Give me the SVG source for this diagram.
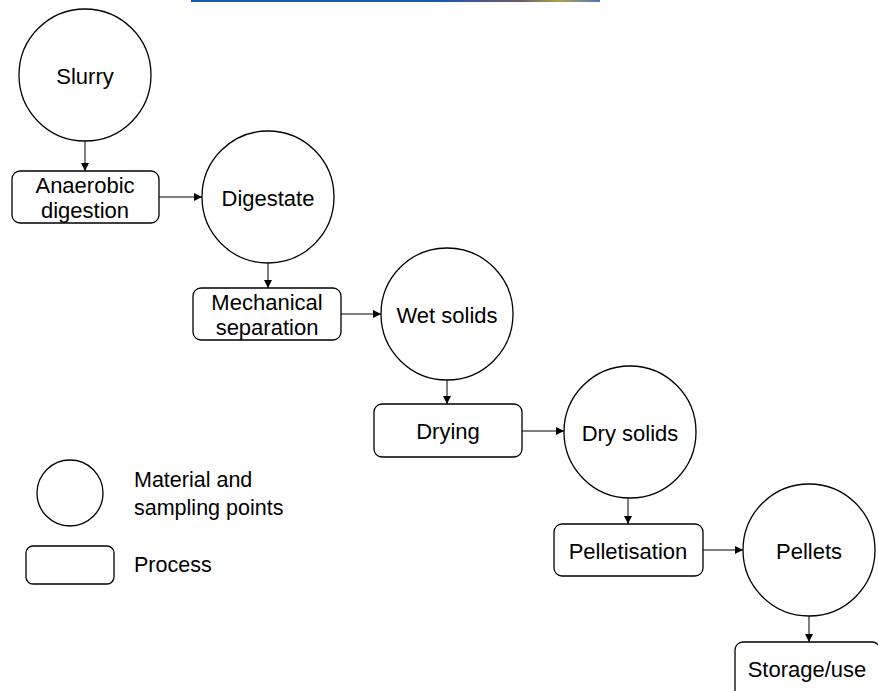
<svg xmlns="http://www.w3.org/2000/svg" width="878" height="691" viewBox="0 0 878 691">
<style>
.n{fill:#fff;stroke:#000;stroke-width:1.3}
.t{font-family:"Liberation Sans",Arial,sans-serif;font-size:22px;fill:#000;text-anchor:middle}
.l{font-family:"Liberation Sans",Arial,sans-serif;font-size:21.5px;fill:#000}
.c{stroke:#000;stroke-width:1;fill:none;marker-end:url(#ah)}
</style>
<defs>
<marker id="ah" markerWidth="8" markerHeight="8" refX="8" refY="4" orient="auto" markerUnits="userSpaceOnUse">
<path d="M0,0 L8,4 L0,8 Z" fill="#000"/>
</marker>
<linearGradient id="bar" x1="0" x2="1" y1="0" y2="0">
<stop offset="0" stop-color="#1a56b0"/><stop offset="0.6" stop-color="#1a56b0"/><stop offset="0.8" stop-color="#6a5a6a"/><stop offset="0.9" stop-color="#b0a050"/><stop offset="1" stop-color="#4a78c0"/>
</linearGradient>
</defs>
<rect x="0" y="0" width="878" height="691" fill="#fff"/>
<rect x="191" y="0" width="409" height="2" fill="url(#bar)"/>
<g id="connectors">
<line class="c" x1="85" y1="141" x2="85" y2="171"/>
<line class="c" x1="159" y1="197" x2="202" y2="197"/>
<line class="c" x1="268" y1="263" x2="268" y2="288"/>
<line class="c" x1="341" y1="314" x2="381" y2="314"/>
<line class="c" x1="447" y1="380" x2="447" y2="404"/>
<line class="c" x1="522" y1="431" x2="564" y2="431"/>
<line class="c" x1="628" y1="498" x2="628" y2="524"/>
<line class="c" x1="703" y1="550" x2="743" y2="550"/>
<line class="c" x1="809" y1="616" x2="809" y2="642"/>
</g>
<g id="slurry"><circle class="n" cx="85" cy="75" r="66"/><text class="t" x="85" y="84">Slurry</text></g>
<g id="anaerobic-digestion"><rect class="n" x="12" y="171" width="147" height="52" rx="8"/><text class="t" x="85" y="193">Anaerobic</text><text class="t" x="85" y="218">digestion</text></g>
<g id="digestate"><circle class="n" cx="268" cy="197" r="66"/><text class="t" x="268" y="206">Digestate</text></g>
<g id="mechanical-separation"><rect class="n" x="193" y="288" width="148" height="52" rx="8"/><text class="t" x="267" y="310">Mechanical</text><text class="t" x="267" y="335">separation</text></g>
<g id="wet-solids"><circle class="n" cx="447" cy="314" r="66"/><text class="t" x="447" y="323">Wet solids</text></g>
<g id="drying"><rect class="n" x="374" y="404" width="148" height="53" rx="8"/><text class="t" x="448" y="439">Drying</text></g>
<g id="dry-solids"><circle class="n" cx="630" cy="432" r="66"/><text class="t" x="630" y="441">Dry solids</text></g>
<g id="pelletisation"><rect class="n" x="554" y="524" width="149" height="52" rx="8"/><text class="t" x="628" y="559">Pelletisation</text></g>
<g id="pellets"><circle class="n" cx="809" cy="550" r="66"/><text class="t" x="809" y="559">Pellets</text></g>
<g id="storage-use"><rect class="n" x="735" y="642" width="145" height="60" rx="8"/><text class="t" x="807" y="677">Storage/use</text></g>
<g id="legend">
<circle class="n" cx="70" cy="493" r="33"/>
<text class="l" x="134" y="487">Material and</text>
<text class="l" x="134" y="515">sampling points</text>
<rect class="n" x="26" y="546" width="88" height="38" rx="7"/>
<text class="l" x="134" y="572">Process</text>
</g>
</svg>
